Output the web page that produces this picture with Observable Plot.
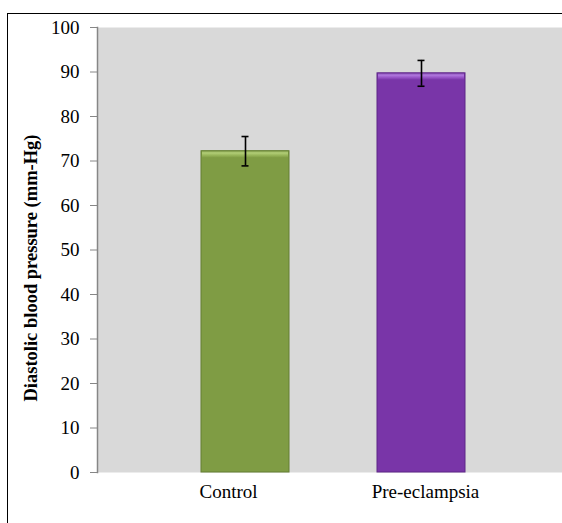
<!DOCTYPE html>
<html>
<head>
<meta charset="utf-8">
<script src="https://cdn.jsdelivr.net/npm/d3@7"></script>
<script src="https://cdn.jsdelivr.net/npm/@observablehq/plot@0.6"></script>
<style>
  html, body { margin: 0; padding: 0; background: #fff; overflow: hidden; }
  #wrap { position: relative; width: 562px; height: 523px; }
  #border { position: absolute; left: 7px; top: 13px; width: 700px; height: 700px;
            border-left: 1.5px solid #000; border-top: 1.5px solid #000; pointer-events: none; }
  svg.defs { position: absolute; width: 0; height: 0; }
  #wrap svg text { font-family: 'Liberation Serif', 'Times New Roman', serif; }
</style>
</head>
<body>
<svg class="defs" aria-hidden="true">
  <defs>
    <linearGradient id="bevelGreen" x1="0" y1="0" x2="0" y2="1">
      <stop offset="0" stop-color="#6f8a3a"/>
      <stop offset="0.3" stop-color="#b3cf78"/>
      <stop offset="0.65" stop-color="#98b65a"/>
      <stop offset="1" stop-color="#7f9c44"/>
    </linearGradient>
    <linearGradient id="bevelPurple" x1="0" y1="0" x2="0" y2="1">
      <stop offset="0" stop-color="#65288f"/>
      <stop offset="0.3" stop-color="#b27be0"/>
      <stop offset="0.65" stop-color="#9856c8"/>
      <stop offset="1" stop-color="#7935a8"/>
    </linearGradient>
  </defs>
</svg>
<div id="wrap"><div id="border"></div></div>
<script>
// Data
const categories = ["Control", "Pre-eclampsia"];
const means = [72.2, 89.7];
const sds = [3.3, 2.9];
const yTicks = [0, 10, 20, 30, 40, 50, 60, 70, 80, 90, 100];
const yLabel = "Diastolic blood pressure (mm-Hg)";

// Styles
const fills = ["#7f9c44", "#7935a8"];
const strokes = ["#647f33", "#5f2788"];
const bevels = ["url(#bevelGreen)", "url(#bevelPurple)"];
const serif = "'Liberation Serif', 'Times New Roman', serif";

const data = categories.map((c, i) => ({
  cat: c, mean: means[i], lo: means[i] - sds[i], hi: means[i] + sds[i],
  fill: fills[i], stroke: strokes[i], bevel: bevels[i]
}));

const chart = Plot.plot({
  width: 562,
  height: 523,
  marginLeft: 97,
  marginRight: 0,
  marginTop: 27,
  marginBottom: 51,
  style: { fontFamily: serif, fontSize: "19px", color: "#000", background: "transparent" },
  x: { type: "band", domain: categories, range: [157, 509], paddingInner: 0.5, paddingOuter: 0.25, axis: null },
  y: { domain: [0, 100], axis: null },
  marks: [
    Plot.frame({ fill: "#d9d9d9", stroke: null }),
    Plot.barY(data, { x: "cat", y: "mean", fill: "fill", stroke: "stroke", strokeWidth: 1 }),
    Plot.barY(data, { x: "cat", y1: "mean", y2: "mean", insetBottom: -7, insetLeft: 1, insetRight: 1, fill: "bevel" }),
    Plot.ruleX(data, { x: "cat", y1: "lo", y2: "hi", stroke: "#000", strokeWidth: 1.6 }),
    Plot.tickY(data, { x: "cat", y: "lo", insetLeft: 40.5, insetRight: 40.5, stroke: "#000", strokeWidth: 1.6 }),
    Plot.tickY(data, { x: "cat", y: "hi", insetLeft: 40.5, insetRight: 40.5, stroke: "#000", strokeWidth: 1.6 }),
    Plot.frame({ anchor: "left", stroke: "#868686", strokeWidth: 1.5 }),
    Plot.axisY({ ticks: yTicks, tickSize: 7, tickPadding: 11, stroke: "#868686", fill: "#000", fontSize: 19, fontFamily: serif, label: null, tickFormat: d => d }),
    Plot.text([categories[0]], { x: d => d, frameAnchor: "bottom", lineAnchor: "bottom", dy: 25, dx: -17, fontSize: 19, fontFamily: serif, fill: "#000" }),
    Plot.text([categories[1]], { x: d => d, frameAnchor: "bottom", lineAnchor: "bottom", dy: 25, dx: 4, fontSize: 19, fontFamily: serif, fill: "#000" }),
    Plot.text([yLabel], { frameAnchor: "left", textAnchor: "middle", rotate: -90, dx: -66, dy: 18, fontWeight: "bold", fontSize: 18.5, fontFamily: serif, fill: "#000" })
  ]
});

document.getElementById("wrap").prepend(chart);
</script>
</body>
</html>
